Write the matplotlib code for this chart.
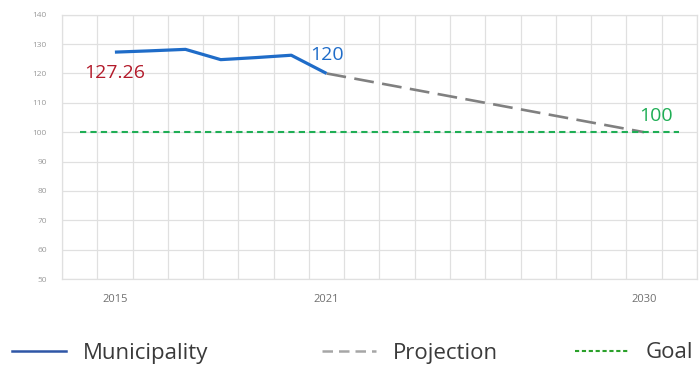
import matplotlib

matplotlib.use("Agg")
import matplotlib.pyplot as plt
from matplotlib.lines import Line2D
from matplotlib.ticker import MultipleLocator, FixedLocator

# исторические значения по муниципалитету
years = [2015, 2016, 2017, 2018, 2019, 2020, 2021]
municipality = [127.26, 127.7, 128.2, 124.7, 125.4, 126.2, 120]

# прогноз до целевого года
proj_years = [2021, 2030]
projection = [120, 100]

goal_years = [2014, 2031]
goal = [100, 100]

xtick_years = [2015, 2021, 2030]
legend_labels = ["Municipality", "Projection", "Goal"]

BLUE = "#1f6cc8"
RED = "#b31b2b"
GREEN = "#1fae55"
GRAY = "#808080"

plt.rcParams["font.family"] = ["Open Sans", "DejaVu Sans"]

fig = plt.figure(figsize=(6.99, 3.65), dpi=100)
ax = fig.add_axes([0.0887, 0.2356, 0.9083, 0.7241])

ax.plot(years, municipality, color=BLUE, lw=2.3, solid_capstyle="butt", zorder=4)
ax.plot(proj_years, projection, color=GRAY, lw=1.9, dashes=(7.5, 3.2), zorder=3)
ax.plot(goal_years, goal, color=GREEN, lw=1.5, dashes=(3, 2), zorder=3)

ax.text(2015, 120.3, f"{municipality[0]:g}", color=RED, fontsize=14,
        ha="center", va="center")
ax.text(2021, 126.2, f"{municipality[-1]:g}", color=BLUE, fontsize=14,
        ha="center", va="center")
ax.text(2030.35, 105.6, f"{projection[-1]:g}", color=GREEN, fontsize=14,
        ha="center", va="center")

ax.set_xlim(2013.5, 2031.5)
ax.set_ylim(50, 140)
ax.yaxis.set_major_locator(MultipleLocator(10))
ax.xaxis.set_major_locator(FixedLocator(xtick_years))
ax.xaxis.set_minor_locator(MultipleLocator(1, offset=0.5))

ax.grid(True, which="major", axis="y", color="#e0e0e0", lw=0.9)
ax.grid(True, which="minor", axis="x", color="#e0e0e0", lw=0.9)
ax.set_axisbelow(True)
for side in ax.spines.values():
    side.set_color("#e0e0e0")
    side.set_linewidth(0.9)

ax.tick_params(axis="y", length=0, labelsize=6, labelcolor="#9a9a9a", pad=11)
ax.tick_params(axis="x", which="both", length=0, labelsize=8,
               labelcolor="#707070", pad=11)

# легенда: три отдельных элемента, разнесённых по ширине
handles = [
    Line2D([], [], color="#2f56a6", lw=1.8),
    Line2D([], [], color="#a6a6a6", lw=1.8, dashes=(4.2, 2.4)),
    Line2D([], [], color="#2aa02a", lw=1.5, dashes=(2, 1.3)),
]
legend_x = [12 / 699, 322 / 699, 575 / 699]
for h, lab, x0 in zip(handles, legend_labels, legend_x):
    fig.legend([h], [lab], loc="center left", bbox_to_anchor=(x0, 12 / 365),
               frameon=False, borderpad=0, borderaxespad=0,
               prop={"size": 16}, labelcolor="#3a3a3a",
               handlelength=2.45, handletextpad=0.75)

fig.savefig("out.png", dpi=100)
